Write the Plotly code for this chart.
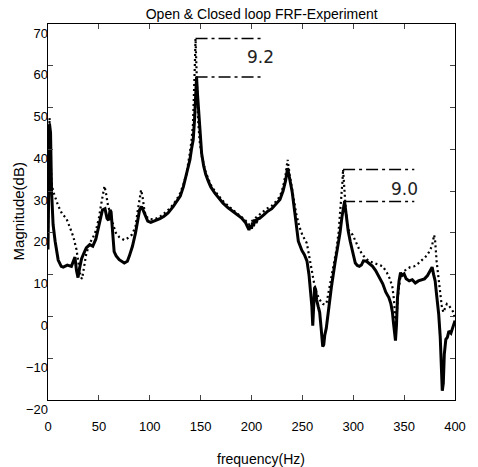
import plotly.graph_objects as go

# ---- data ----
closed_freq = [0, 0.8, 1.5, 2.5, 3.5, 5, 7, 10, 13, 15, 19, 23, 25, 26.5, 28, 29.5, 31, 33, 35, 37.6,
               41, 44, 47, 49, 51, 53.5, 56, 58, 59.5, 61, 62, 63.5, 65, 67, 70, 75, 78, 80, 83, 86,
               88, 90, 92, 94, 96, 98, 101, 104, 107, 110, 114, 118, 123, 127, 130, 133, 135, 137, 139.5, 141,
               142.7, 144, 145, 146, 147, 148.5, 149.5, 151, 153, 155, 157.5, 160, 164, 168, 172, 177, 182, 186, 190, 194,
               196, 197.5, 199, 200, 201, 202, 203, 204.5, 206, 208, 212, 216, 220, 224, 228, 231, 233.5, 235.5, 237.5, 240,
               243, 246, 249.5, 252, 254.5, 256.5, 258, 259.3, 260.2, 261, 262, 263, 264, 265.5, 267, 268.5, 270, 271, 272, 273.5,
               275.5, 278.5, 282, 285, 287, 289, 290.5, 291.5, 293, 295, 297, 299.5, 302, 304, 306, 308, 310, 313, 316, 319,
               322, 326, 329, 332, 335, 337, 338.5, 339.5, 340.5, 341.5, 342.5, 343.5, 345, 346.5, 348, 350, 352, 355, 358, 361,
               364, 367, 370, 373, 375.5, 377.5, 379, 380.5, 382, 384, 385.5, 386.5, 387.5, 388.5, 389.5, 391, 392.5, 394, 396, 398, 400]
closed_mag = [16, 30, 46, 44, 30, 22, 18, 13.5, 12, 11.8, 12.3, 12, 13.5, 14.2, 11, 9.3, 11.5, 13.8, 15, 16.4,
              17.2, 16.8, 18.5, 20.5, 23, 25.5, 25.8, 23.5, 23, 25.5, 25, 20, 15.5, 14.5, 13.6, 12.8, 13.2, 14.5, 16.8, 20,
              23, 25.5, 26.3, 25, 23.8, 22.8, 22.5, 22.8, 23.2, 23.4, 24, 24.8, 26.3, 27.6, 28.8, 31, 33, 35, 37.5, 40,
              42.3, 47, 53, 57.3, 53, 48, 42.5, 39, 36, 34, 32.4, 31, 29.5, 28.2, 27.1, 26, 25.1, 24.4, 23.6, 22.5,
              21.5, 20.7, 21.8, 21, 22.5, 21.6, 23.2, 22.4, 23.4, 23.5, 24.3, 25.2, 25.8, 26.8, 28, 30, 32.5, 35.5, 33, 29.8,
              24, 18, 15.8, 14.8, 13.3, 10, 6, 2.5, -2.2, 1, 7, 6.5, 4, 2.4, 1, -3, -7.2, -6.8, -4.5, -2.8,
              1.5, 7, 12.7, 17, 20, 24, 26.5, 27.5, 24.5, 20.5, 18, 15, 12.8, 12.2, 12, 12.3, 13.3, 13.2, 12.5, 12,
              11, 9.2, 7.8, 5.8, 4.5, 3, 1, -1.5, -4, -5.8, -2, 4.5, 8.5, 10.5, 9.8, 10.2, 9, 8.5, 8.8, 8,
              8.5, 8.8, 9, 9.8, 10.8, 11.8, 10, 8.5, 5, 0.5, -5, -11, -17.8, -16, -9, -5.5, -5, -3.5, -4, -2.5, -1]

open_freq = [0, 0.8, 1.5, 2.5, 3.5, 5, 7, 10, 14, 18, 22, 25, 28, 30, 32, 33.5, 35, 37.6, 41, 44,
             47, 50, 52, 54, 55.5, 57, 59, 61.8, 64, 66.7, 70, 74.8, 78, 82.6, 86, 88, 90, 91.5, 93, 95,
             97, 100, 104, 108, 112, 116, 120, 125, 129, 133, 136, 139, 141, 142.5, 143.5, 144.3, 145, 145.7, 146.5, 147.5,
             149, 151, 153, 155, 157.5, 160, 164, 168, 172, 177, 182, 186, 190, 194, 197, 199, 201, 203, 206, 210,
             215, 220, 224, 228, 231, 233.5, 235.5, 237.5, 240, 242, 244, 247, 250, 254.4, 257, 259.3, 261.5, 264, 267, 270,
             272, 274, 276, 278.5, 281, 283.5, 285.5, 287, 288.4, 289.3, 290, 291, 292.5, 294, 296, 299.5, 303, 306, 310, 315,
             320, 325, 329, 333, 336, 338.5, 340, 341.5, 342.5, 344, 346, 349, 352, 356, 360, 364, 368, 372, 375, 377.5,
             379.5, 380.5, 382, 384, 385.5, 387, 388.5, 390, 392, 394, 396, 398, 400]
open_mag = [20, 40, 47.5, 38, 32, 30, 28.5, 26.5, 24.5, 23.5, 21, 19, 16, 12.5, 9.5, 9, 11.5, 15, 17.5, 18.8,
            20.5, 23.5, 26.5, 29.5, 31.2, 29.5, 26.5, 24.3, 22, 20, 19, 18.3, 18.7, 19.6, 21.5, 25, 28.5, 30.3, 28.5, 25,
            23.8, 23.3, 23.2, 23.6, 24.2, 25, 25.9, 27.5, 29, 31.5, 34, 38.5, 42, 46, 52, 60, 66.5, 60, 52, 47,
            42, 38.5, 36.5, 34.5, 33, 31.5, 30, 28.7, 27.6, 26.5, 25.5, 24.8, 24, 23, 22, 22.2, 23, 23.5, 24, 24.8,
            25.8, 26.5, 27.5, 28.8, 31, 34, 37.5, 34, 30.5, 27, 24.5, 21.5, 19.5, 17.5, 14, 10.4, 8, 5.6, 4, 3,
            2.8, 3.5, 6, 9, 12.5, 16, 20, 24, 28, 32, 35.2, 31, 26, 22.5, 20.5, 19.5, 17.5, 16, 14.5, 13.3,
            12.8, 12.3, 12, 10.5, 9, 7, 4, -1.5, 0, 5, 9, 10.5, 11.3, 11.8, 12, 12.7, 13.5, 14.5, 15.6, 17,
            19.5, 18, 13, 8.5, 5.5, 2.5, 1, 2, 3, 2.6, 2, 1.2, -0.5]

# marked peak reductions
mark_freq = [145, 290]
mark_open = [66.5, 35.2]
mark_closed = [57.3, 27.5]
mark_end = [211, 360]
mark_text = ["9.2", "9.0"]
mark_text_pos = [(208.5, 62), (350, 30.6)]

x_ticks = [0, 50, 100, 150, 200, 250, 300, 350, 400]
y_ticks = [-20, -10, 0, 10, 20, 30, 40, 50, 60, 70]

FONT = "Liberation Sans, Arial, sans-serif"

W, H = 478, 467
M_L, M_R, M_T, M_B = 48, 17, 24, 40
PLOT_H = H - M_T - M_B          # paper height in px
AXIS_BOTTOM_PX = 400            # bottom of the frame
LABEL_SHIFT_PX = 9              # y tick labels sit a bit lower than their ticks


def py_to_paper(py):
    return (H - M_B - py) / PLOT_H


fig = go.Figure()
fig.add_trace(go.Scatter(x=open_freq, y=open_mag, mode="lines",
                         line=dict(color="black", width=2.2, dash="2px,3px"),
                         name="Open loop", showlegend=False))
fig.add_trace(go.Scatter(x=closed_freq, y=closed_mag, mode="lines",
                         line=dict(color="black", width=3),
                         name="Closed loop", showlegend=False))
# empty trace so the tick-label axis (x2/y2) is drawn
fig.add_trace(go.Scatter(x=[None], y=[None], xaxis="x2", yaxis="y2", mode="lines",
                         showlegend=False, hoverinfo="skip"))

for f, o, c, e, t, (tx, ty) in zip(mark_freq, mark_open, mark_closed, mark_end, mark_text, mark_text_pos):
    for yv in (o, c):
        fig.add_shape(type="line", x0=f, x1=e, y0=yv, y1=yv, xref="x", yref="y",
                      line=dict(color="black", width=1.5, dash="12px,4px,3px,4px"))
    fig.add_annotation(x=tx, y=ty, xref="x", yref="y", text=t, showarrow=False,
                       font=dict(family="DejaVu Sans, sans-serif", size=17, color="#222"))

# axis titles
fig.add_annotation(text="Magnitude(dB)", textangle=-90, showarrow=False,
                   xref="paper", yref="paper", x=(18 - M_L) / (W - M_L - M_R),
                   y=py_to_paper(211), xanchor="center", yanchor="middle",
                   font=dict(family=FONT, size=15, color="black"))
fig.add_annotation(text="frequency(Hz)", showarrow=False,
                   xref="paper", yref="paper", x=(264 - M_L) / (W - M_L - M_R),
                   y=py_to_paper(459), xanchor="center", yanchor="middle",
                   font=dict(family=FONT, size=14, color="black"))

fig.update_layout(
    width=W, height=H,
    margin=dict(l=M_L, r=M_R, t=M_T, b=M_B),
    paper_bgcolor="white", plot_bgcolor="rgba(0,0,0,0)",
    font=dict(family=FONT, size=13, color="black"),
    title=dict(text="Open & Closed loop FRF-Experiment", x=0.525, xref="paper",
               xanchor="center", y=1 - 14 / H, yref="container", yanchor="middle",
               font=dict(family=FONT, size=14, color="black")),
    xaxis=dict(range=[0, 400], tickvals=x_ticks, ticks="inside", ticklen=5,
               anchor="y",
               showline=True, linecolor="black", linewidth=1.2, mirror="allticks",
               showgrid=False, zeroline=False, ticklabelstandoff=14),
    yaxis=dict(range=[-20, 70], tickvals=y_ticks, ticks="inside", ticklen=5,
               anchor="x",
               domain=[py_to_paper(AXIS_BOTTOM_PX), 1],
               showline=True, linecolor="black", linewidth=1.2, mirror="allticks",
               showgrid=False, zeroline=False, showticklabels=False),
    xaxis2=dict(range=[0, 400], anchor="y2", visible=False, showgrid=False, zeroline=False),
    yaxis2=dict(range=[-20, 70], tickvals=y_ticks, anchor="x2", side="left",
                domain=[py_to_paper(AXIS_BOTTOM_PX + LABEL_SHIFT_PX),
                        py_to_paper(M_T + LABEL_SHIFT_PX)],
                showline=False, ticks="", showgrid=False,
                zeroline=False, ticklabelstandoff=-1),
)

fig.write_html("out.html")
